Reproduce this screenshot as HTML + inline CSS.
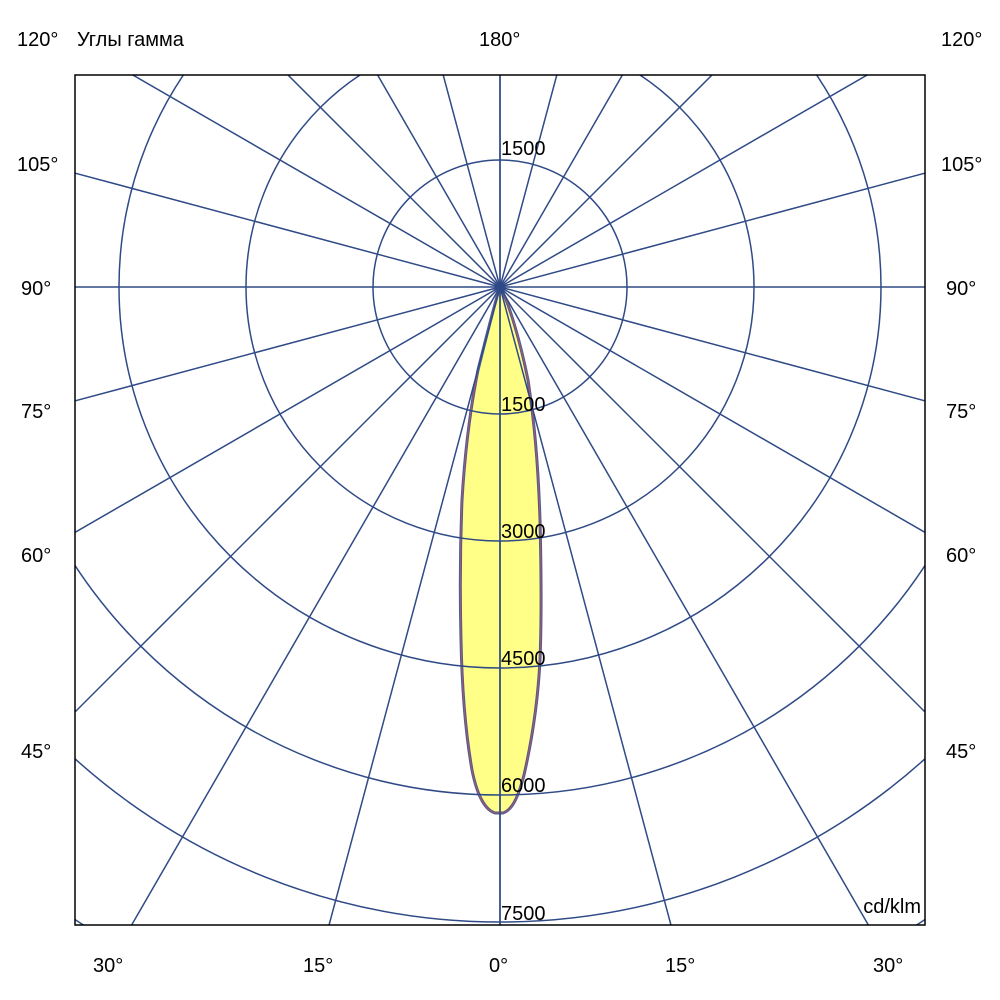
<!DOCTYPE html>
<html><head><meta charset="utf-8"><style>
html,body{margin:0;background:#fff;overflow:hidden;width:1000px;height:1000px}
svg{display:block}
svg text{font-family:"Liberation Sans",sans-serif;font-size:20px;fill:#000}
</style></head><body>
<svg width="1000" height="1000" xmlns="http://www.w3.org/2000/svg">
<defs><clipPath id="c"><rect x="75" y="75" width="850" height="850"/></clipPath></defs>
<g clip-path="url(#c)">
<path d="M500,287 C497,295 488,330 478,370 C470,410 465,450 462,500 C460,550 460,600 461,640 C462,690 465,730 472,770 C477,795 485,810 495,813 L503,813 C512,810 518,798 524,775 C532,740 538,700 540,660 C542,610 541,560 540,520 C538,460 534,420 528,380 C520,340 508,300 500,287 Z" fill="#ffff88" stroke="#4a5f95" stroke-width="3"/>
<path d="M500,287 C497,295 488,330 478,370 C470,410 465,450 462,500 C460,550 460,600 461,640 C462,690 465,730 472,770 C477,795 485,810 495,813 L503,813 C512,810 518,798 524,775 C532,740 538,700 540,660 C542,610 541,560 540,520 C538,460 534,420 528,380 C520,340 508,300 500,287 Z" fill="none" stroke="#e05050" stroke-width="1" opacity="0.7"/>
<g fill="none" stroke="#2f4a86" stroke-width="1.5">
<circle cx="500" cy="287" r="127"/>
<circle cx="500" cy="287" r="254"/>
<circle cx="500" cy="287" r="381"/>
<circle cx="500" cy="287" r="508"/>
<circle cx="500" cy="287" r="635"/>
<circle cx="500" cy="287" r="762"/>
<g id="rays">
<line x1="500" y1="287" x2="500" y2="1287"/>
<line x1="500" y1="287" x2="758.8" y2="1252.9"/>
<line x1="500" y1="287" x2="1000" y2="1153"/>
<line x1="500" y1="287" x2="1207" y2="994"/>
<line x1="500" y1="287" x2="1366" y2="787"/>
<line x1="500" y1="287" x2="1465.9" y2="545.8"/>
<line x1="500" y1="287" x2="1500" y2="287"/>
<line x1="500" y1="287" x2="1465.9" y2="28.2"/>
<line x1="500" y1="287" x2="1366" y2="-213"/>
<line x1="500" y1="287" x2="1207" y2="-420"/>
<line x1="500" y1="287" x2="1000" y2="-579"/>
<line x1="500" y1="287" x2="758.8" y2="-678.9"/>
<line x1="500" y1="287" x2="500" y2="-713"/>
</g>
<use href="#rays" transform="translate(1000,0) scale(-1,1)"/>
</g>
</g>
<rect x="75" y="75" width="850" height="850" fill="none" stroke="#000" stroke-width="1.5"/>
<text x="17" y="46">120°</text>
<text x="77" y="46">Углы гамма</text>
<text x="479" y="46">180°</text>
<text x="941" y="46">120°</text>
<text x="17" y="171">105°</text><text x="941" y="171">105°</text>
<text x="21" y="295">90°</text><text x="946" y="295">90°</text>
<text x="21" y="418">75°</text><text x="946" y="418">75°</text>
<text x="21" y="562">60°</text><text x="946" y="562">60°</text>
<text x="21" y="758">45°</text><text x="946" y="758">45°</text>
<text x="93" y="972">30°</text>
<text x="303" y="972">15°</text>
<text x="489" y="972">0°</text>
<text x="665" y="972">15°</text>
<text x="873" y="972">30°</text>
<text x="501" y="155">1500</text>
<text x="501" y="411">1500</text>
<text x="501" y="538">3000</text>
<text x="501" y="665">4500</text>
<text x="501" y="792">6000</text>
<text x="501" y="920">7500</text>
<text x="921" y="913" text-anchor="end">cd/klm</text>
</svg>
</body></html>
